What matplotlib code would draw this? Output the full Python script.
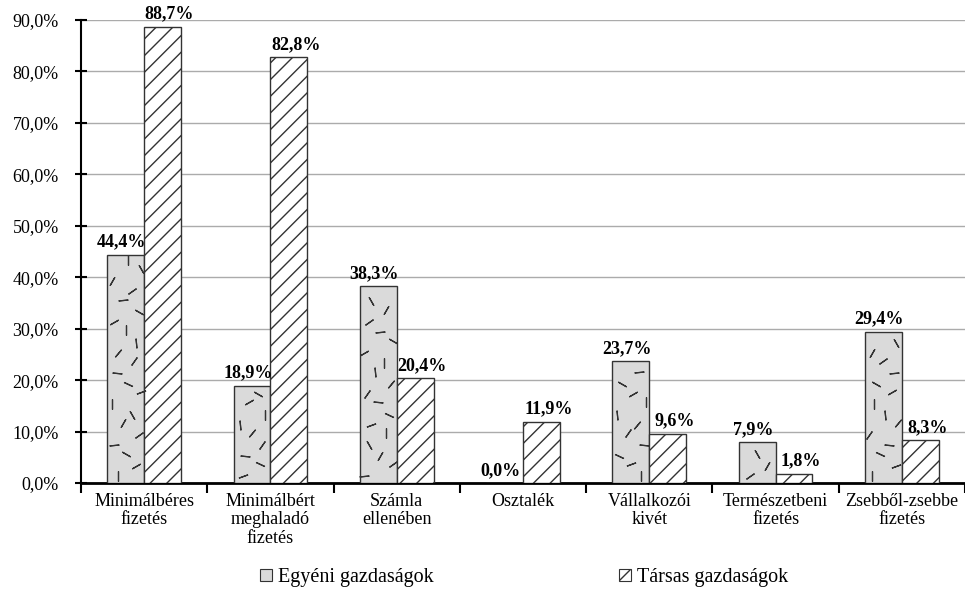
import matplotlib
matplotlib.use("Agg")
import matplotlib.pyplot as plt
import numpy as np
from matplotlib.patches import Patch
from matplotlib.ticker import FixedLocator, FuncFormatter

plt.rcParams["font.family"] = ["Liberation Serif", "DejaVu Serif"]

categories = ["Minimálbéres\nfizetés", "Minimálbért\nmeghaladó\nfizetés",
              "Számla\nellenében", "Osztalék", "Vállalkozói\nkivét",
              "Természetbeni\nfizetés", "Zsebből-zsebbe\nfizetés"]
egyeni = [44.4, 18.9, 38.3, 0.0, 23.7, 7.9, 29.4]
tarsas = [88.7, 82.8, 20.4, 11.9, 9.6, 1.8, 8.3]
series_names = ["Egyéni gazdaságok", "Társas gazdaságok"]
yticks = np.arange(0, 91, 10)

GREY = "#dadada"
EDGE = "#333333"
width = 0.292

fig = plt.figure(figsize=(9.65, 5.93), dpi=100)
ax = fig.add_axes([0.084, 0.1855, 0.916, 0.7808])

centers = np.arange(len(categories)) + 0.5
ax.bar(centers - width / 2, egyeni, width, color=GREY, edgecolor=EDGE,
       linewidth=1.0, zorder=3)
ax.bar(centers + width / 2, tarsas, width, color="white", edgecolor=EDGE,
       hatch="//", linewidth=1.0, zorder=3)

# speckled texture of the "egyéni" bars: short dashes, fixed irregular layout
tex_x = [0.3, 0.78, 0.5, 0.18, 0.85, 0.42, 0.66, 0.12, 0.9, 0.55, 0.25, 0.72]
tex_a = [0, 120, 60, 95, -55, 150, 30, 0, 110, 65, 85, -35, 140, 5]
k = 0
for c, h in zip(centers, egyeni):
    x0 = c - width
    y = 1.3
    while y < h - 1.0:
        ax.plot(x0 + tex_x[k % len(tex_x)] * width, y, ls="none",
                marker=(2, 2, tex_a[k % len(tex_a)]), ms=7, mew=0.9,
                color=EDGE, zorder=4)
        k += 1
        y += 1.65 + 0.35 * (k % 3)

for c, v in zip(centers, egyeni):
    ax.annotate(f"{v:.1f}%".replace(".", ","), (c - width / 2, v),
                xytext=(-3, 3), textcoords="offset points", ha="center",
                va="bottom", fontsize=13, fontweight="bold", zorder=5)
for c, v in zip(centers, tarsas):
    ax.annotate(f"{v:.1f}%".replace(".", ","), (c + width / 2, v),
                xytext=(5, 3), textcoords="offset points", ha="center",
                va="bottom", fontsize=13, fontweight="bold", zorder=5)

ax.set_xlim(0, len(categories))
ax.set_ylim(0, 90)
ax.set_yticks(yticks)
ax.yaxis.set_major_formatter(FuncFormatter(lambda v, p: f"{v:.1f}%".replace(".", ",")))
ax.tick_params(axis="y", direction="inout", length=8, width=1.5, labelsize=13, pad=12)
ax.yaxis.grid(True, color="#ababab", linewidth=1.0, zorder=0)

ax.xaxis.set_major_locator(FixedLocator(np.arange(len(categories) + 1)))
ax.xaxis.set_major_formatter(FuncFormatter(lambda v, p: ""))
ax.xaxis.set_minor_locator(FixedLocator(centers))
ax.set_xticklabels(categories, minor=True)
ax.tick_params(axis="x", which="major", direction="out", length=7, width=1.5)
ax.tick_params(axis="x", which="minor", length=0, labelsize=13, pad=7)
for lab in ax.get_xticklabels(minor=True):
    lab.set_linespacing(1.12)

for s in ["top", "right"]:
    ax.spines[s].set_visible(False)
ax.spines["left"].set_linewidth(1.5)
ax.spines["bottom"].set_linewidth(2.0)

handles = [Patch(facecolor=GREY, edgecolor=EDGE, linewidth=0.8),
           Patch(facecolor="white", edgecolor=EDGE, hatch="/", linewidth=0.8)]
fig.legend(handles, series_names, loc="center", bbox_to_anchor=(0.543, 0.026),
           ncol=2, frameon=False, fontsize=14.5, handlelength=0.6, handleheight=0.6,
           handletextpad=0.3, columnspacing=9.2)

fig.savefig("out.png", dpi=100)
